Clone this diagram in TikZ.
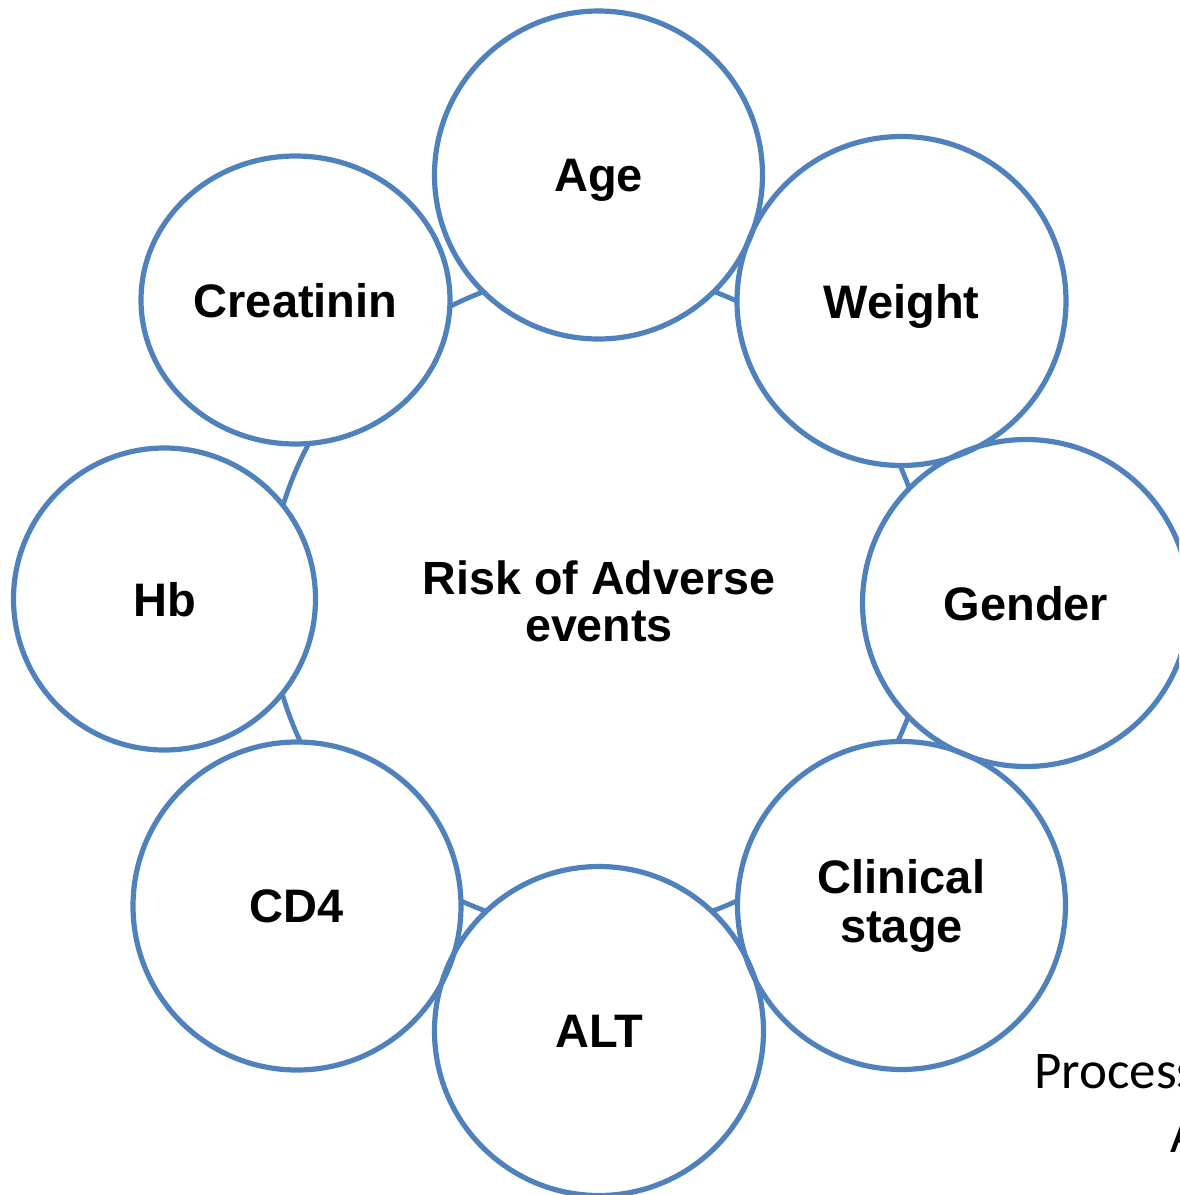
\documentclass[tikz,border=0pt]{standalone}
\usepackage{fontspec}
\setmainfont{Liberation Sans}
\newfontfamily\calibri{Carlito}
\usetikzlibrary{shapes.geometric,backgrounds}
\definecolor{accent}{HTML}{4F81BD}

\tikzset{
  bubble/.style={circle, draw=accent, line width=2.6pt, inner sep=0pt,
    font=\fontsize{23.5}{24.5}\selectfont\bfseries, align=center},
  single/.style={text depth=0pt},
  ring/.style={draw=accent, line width=2.4pt},
  hubtext/.style={font=\fontsize{23.3}{23.5}\selectfont\bfseries, align=center},
  note/.style={font=\calibri\fontsize{26.5}{32}\selectfont, anchor=base west, inner sep=0pt}
}

\begin{document}
\begin{tikzpicture}[x=0.5pt, y=-0.5pt]
  \useasboundingbox (0,0) rectangle (1179,1195);
  \clip (0,0) rectangle (1179,1195);

  % central label
  \node[hubtext] (hub) at (599,601) {Risk of Adverse\\events};

  % factor bubbles around the ring
  \node[bubble, single, minimum size=164pt]   (age)      at (598.5,175)   {Age};
  \node[bubble, single, minimum size=164.5pt] (weight)   at (901.5,301)   {Weight};
  \node[bubble, single, minimum size=163.5pt] (gender)   at (1026,603)    {Gender};
  \node[bubble, minimum size=164pt]           (clinical) at (901.5,905.5) {Clinical\\stage};
  \node[bubble, single, minimum size=164.5pt] (alt)      at (599,1031)    {ALT};
  \node[bubble, single, minimum size=164pt]   (cd4)      at (297,906)     {CD4};
  \node[bubble, single, minimum size=151pt]   (hb)       at (164.5,599)   {Hb};
  \node[bubble, single, ellipse, minimum width=154.5pt, minimum height=144pt]
                                              (creat)    at (295.5,300)   {Creatinin};

  % connecting ring, hidden behind the bubbles
  \begin{scope}[on background layer]
    \draw[ring] (hub.center) circle[radius=165pt];
    \foreach \n/\r in {age/82pt, weight/82.25pt, gender/81.75pt, clinical/82pt,
                       alt/82.25pt, cd4/82pt, hb/75.5pt}
      \fill[white] (\n.center) circle[radius=\r];
    \fill[white] (creat.center) ellipse[x radius=77.25pt, y radius=72pt];
  \end{scope}

  % text running off the lower right edge
  \node[note] (proc) at (1034,1088) {Process};
  \node[note] (tail) at (1170,1152) {A};
\end{tikzpicture}
\end{document}
